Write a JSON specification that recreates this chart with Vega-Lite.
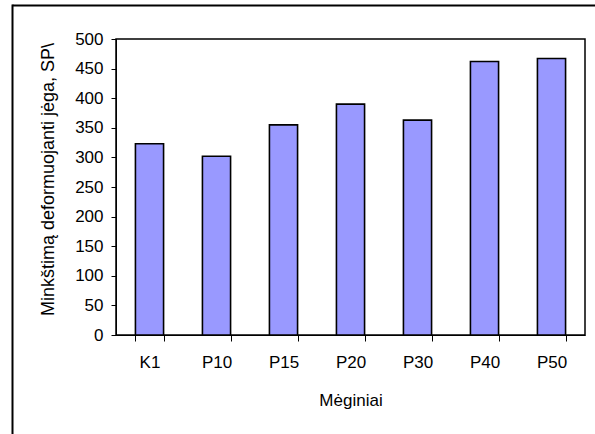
{
  "$schema": "https://vega.github.io/schema/vega-lite/v6.json",
  "width": 469,
  "height": 296,
  "autosize": "none",
  "padding": {"left": 116, "top": 39, "right": 10, "bottom": 99},
  "background": "white",
  "config": {
    "font": "Liberation Sans",
    "view": {"stroke": "#000000", "strokeWidth": 1.5},
    "axis": {"labelColor": "#000", "titleColor": "#000", "domainColor": "#000", "tickColor": "#000", "labelFont": "Liberation Sans", "titleFont": "Liberation Sans", "labelFontSize": 17, "titleFontSize": 17, "titleFontWeight": "normal", "grid": false}
  },
  "data": {"values": [
    {"Sample": "K1", "Value": 323},
    {"Sample": "P10", "Value": 302},
    {"Sample": "P15", "Value": 355},
    {"Sample": "P20", "Value": 390},
    {"Sample": "P30", "Value": 363},
    {"Sample": "P40", "Value": 462},
    {"Sample": "P50", "Value": 467}
  ]},
  "layer": [
    {
      "mark": {"type": "bar", "fill": "#9999FF", "stroke": "#000000", "strokeWidth": 1.6},
      "encoding": {
        "x": {"field": "Sample", "type": "nominal", "sort": null,
              "scale": {"paddingInner": 0.58, "paddingOuter": 0.29},
              "axis": {"title": "Mėginiai", "labelAngle": 0, "tickBand": "extent", "tickSize": 6, "labelPadding": 13, "titlePadding": 22, "domainWidth": 1}},
        "y": {"field": "Value", "type": "quantitative",
              "scale": {"domain": [0, 500], "nice": false, "zero": true},
              "axis": {"title": "Minkštimą deformuojanti jėga, SP\\", "titleFontSize": 18, "titleY": 140, "values": [0, 50, 100, 150, 200, 250, 300, 350, 400, 450, 500], "tickSize": 5, "labelPadding": 8, "titlePadding": 17}}
      }
    },
    {
      "mark": {"type": "point", "opacity": 0, "size": 0},
      "encoding": {
        "x": {"field": "Value", "type": "quantitative",
              "scale": {"domain": [0, 500], "range": [-104, 490], "nice": false, "zero": true},
              "axis": {"orient": "top", "offset": 34, "labels": false, "ticks": false, "title": null, "domainWidth": 2, "domainColor": "#000"}},
        "y": {"field": "Value", "type": "quantitative",
              "scale": {"domain": [0, 500], "range": [400, -35], "nice": false, "zero": true},
              "axis": {"orient": "left", "offset": 104, "labels": false, "ticks": false, "title": null, "domainWidth": 2, "domainColor": "#000"}}
      }
    }
  ],
  "resolve": {"scale": {"x": "independent", "y": "independent"}, "axis": {"x": "independent", "y": "independent"}}
}
